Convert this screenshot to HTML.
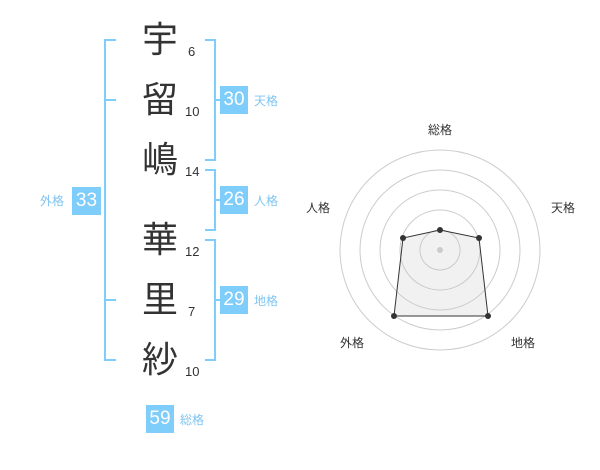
<!DOCTYPE html>
<html><head><meta charset="utf-8"><style>
body{margin:0;width:600px;height:470px;background:#fff;overflow:hidden;position:relative;font-family:"Liberation Sans","Noto Sans CJK JP",sans-serif}
.k{position:absolute;left:140px;width:40px;text-align:center;font-size:36px;line-height:36px;color:#333}
.n{position:absolute;font-size:13px;color:#333;line-height:13px}
.b{position:absolute;background:#7fcdfb;color:#fff;font-size:19px;text-align:center;line-height:28px;width:28px;height:28px}
.l{position:absolute;color:#7fc4f0;font-size:12px;line-height:14px}
.ln{position:absolute;background:#7fcdfb}
</style></head><body>
<div class="k" style="top:22px">宇</div>
<div class="k" style="top:82px">留</div>
<div class="k" style="top:142px">嶋</div>
<div class="k" style="top:222px">華</div>
<div class="k" style="top:282px">里</div>
<div class="k" style="top:342px">紗</div>
<div class="n" style="left:188px;top:45px">6</div>
<div class="n" style="left:185px;top:105px">10</div>
<div class="n" style="left:185px;top:165px">14</div>
<div class="n" style="left:185px;top:245px">12</div>
<div class="n" style="left:188px;top:305px">7</div>
<div class="n" style="left:185px;top:365px">10</div>
<!-- left bracket -->
<div class="ln" style="left:104px;top:39px;width:2px;height:322px"></div>
<div class="ln" style="left:104px;top:39px;width:12px;height:2px"></div>
<div class="ln" style="left:104px;top:99px;width:12px;height:2px"></div>
<div class="ln" style="left:104px;top:299px;width:12px;height:2px"></div>
<div class="ln" style="left:104px;top:359px;width:12px;height:2px"></div>
<!-- right brackets -->
<div class="ln" style="left:214px;top:39px;width:2px;height:122px"></div>
<div class="ln" style="left:205px;top:39px;width:11px;height:2px"></div>
<div class="ln" style="left:205px;top:159px;width:11px;height:2px"></div>
<div class="ln" style="left:214px;top:99px;width:6px;height:2px"></div>
<div class="ln" style="left:214px;top:169px;width:2px;height:62px"></div>
<div class="ln" style="left:205px;top:169px;width:11px;height:2px"></div>
<div class="ln" style="left:205px;top:229px;width:11px;height:2px"></div>
<div class="ln" style="left:214px;top:199px;width:6px;height:2px"></div>
<div class="ln" style="left:214px;top:239px;width:2px;height:122px"></div>
<div class="ln" style="left:205px;top:239px;width:11px;height:2px"></div>
<div class="ln" style="left:205px;top:359px;width:11px;height:2px"></div>
<div class="ln" style="left:214px;top:299px;width:6px;height:2px"></div>
<div class="b" style="left:72px;top:187px;width:29px">33</div>
<div class="l" style="left:40px;top:194px">外格</div>
<div class="b" style="left:220px;top:86px">30</div>
<div class="l" style="left:254px;top:94px">天格</div>
<div class="b" style="left:220px;top:186px">26</div>
<div class="l" style="left:254px;top:194px">人格</div>
<div class="b" style="left:220px;top:286px">29</div>
<div class="l" style="left:254px;top:294px">地格</div>
<div class="b" style="left:146px;top:405px">59</div>
<div class="l" style="left:180px;top:413px">総格</div>
<svg width="600" height="470" style="position:absolute;left:0;top:0">
<g fill="none" stroke="#ccc" stroke-width="1">
<circle cx="440" cy="250" r="100"/><circle cx="440" cy="250" r="80"/><circle cx="440" cy="250" r="60"/><circle cx="440" cy="250" r="40"/><circle cx="440" cy="250" r="20"/>
</g>
<circle cx="440" cy="250" r="3" fill="#ccc"/>
<polygon points="440,230 479,238 488,316 394,316 403,238" fill="rgba(200,200,200,0.25)" stroke="#333" stroke-width="1"/>
<g fill="#333"><circle cx="440" cy="230" r="3"/><circle cx="479" cy="238" r="3"/><circle cx="488" cy="316" r="3"/><circle cx="394" cy="316" r="3"/><circle cx="403" cy="238" r="3"/></g>
<g font-size="12" fill="#333" text-anchor="middle" font-family="Liberation Sans, Noto Sans CJK JP, sans-serif">
<text x="440" y="134">総格</text><text x="563" y="212">天格</text><text x="523" y="347">地格</text><text x="352" y="347">外格</text><text x="318" y="212">人格</text>
</g>
</svg>
</body></html>
